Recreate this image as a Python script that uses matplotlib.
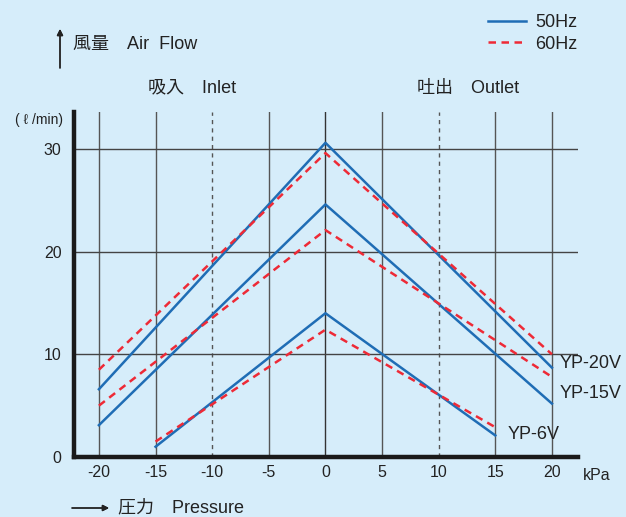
import matplotlib.pyplot as plt

plt.rcParams['font.family'] = ['Liberation Sans', 'Noto Sans CJK JP']

# pressure points (kPa) and air flow (l/min)
x_20v = [-20, 0, 20]
yp20v_50 = [6.6, 30.6, 8.7]
yp20v_60 = [8.5, 29.6, 10.0]

x_15v = [-20, 0, 20]
yp15v_50 = [3.1, 24.6, 5.2]
yp15v_60 = [5.0, 22.1, 7.8]

x_6v = [-15, 0, 15]
yp6v_50 = [1.0, 14.0, 2.1]
yp6v_60 = [1.5, 12.4, 2.9]

xticks = [-20, -15, -10, -5, 0, 5, 10, 15, 20]
yticks = [0, 10, 20, 30]

bg = '#d6edfa'
blue = '#1f6db5'
red = '#ee2a36'
W, H = 626, 517

fig = plt.figure(figsize=(W / 100, H / 100), dpi=100, facecolor=bg)
ax = fig.add_axes([74 / W, 1 - 457 / H, (578 - 74) / W, (457 - 112) / H])
ax.set_facecolor(bg)

# grid
for xv in xticks:
    if xv in (-10, 10):
        ax.axvline(xv, color='#555555', lw=1.0, ls=(0, (3, 3)), zorder=1)
    elif xv != 0:
        ax.axvline(xv, color='#555555', lw=1.0, zorder=1)
    else:
        ax.axvline(xv, color='#333333', lw=1.0, zorder=1)
for yv in yticks[1:]:
    ax.axhline(yv, color='#444444', lw=1.0, zorder=1)

l50, = ax.plot(x_20v, yp20v_50, color=blue, lw=1.8, zorder=3)
l60, = ax.plot(x_20v, yp20v_60, color=red, lw=1.8, ls=(0, (3, 2.2)), zorder=3)
ax.plot(x_15v, yp15v_50, color=blue, lw=1.8, zorder=3)
ax.plot(x_15v, yp15v_60, color=red, lw=1.8, ls=(0, (3, 2.2)), zorder=3)
ax.plot(x_6v, yp6v_50, color=blue, lw=1.8, zorder=3)
ax.plot(x_6v, yp6v_60, color=red, lw=1.8, ls=(0, (3, 2.2)), zorder=3)

ax.set_xlim(-22.2, 22.3)
ax.set_ylim(0, 33.6)
ax.set_xticks(xticks)
ax.set_xticklabels([str(v) for v in xticks])
ax.set_yticks(yticks)
ax.tick_params(length=0, labelsize=11.5, colors='#222222', pad=6)
ax.tick_params(axis='y', pad=9)
for s in ('top', 'right'):
    ax.spines[s].set_visible(False)
for s in ('left', 'bottom'):
    ax.spines[s].set_linewidth(3.2)
    ax.spines[s].set_color('#1a1a1a')

# curve labels
ax.text(20.7, 9.1, 'YP-20V', fontsize=13, va='center', ha='left', color='#222222', clip_on=False)
ax.text(20.7, 6.2, 'YP-15V', fontsize=13, va='center', ha='left', color='#222222', clip_on=False)
ax.text(16.1, 2.2, 'YP-6V', fontsize=13, va='center', ha='left', color='#222222', clip_on=False)


def fx(px):
    return px / W


def fy(py):
    return 1 - py / H


tc = '#222222'
fig.text(fx(583), fy(475), 'kPa', fontsize=11.5, va='center', ha='left', color=tc)
fig.text(fx(63), fy(120), '( ℓ /min)', fontsize=10, va='center', ha='right', color=tc)
fig.text(fx(73), fy(44), '風量　Air  Flow', fontsize=13, va='center', ha='left', color=tc)
fig.text(fx(148), fy(88), '吸入　Inlet', fontsize=13, va='center', ha='left', color=tc)
fig.text(fx(417), fy(88), '吐出　Outlet', fontsize=13, va='center', ha='left', color=tc)
fig.text(fx(118), fy(508), '圧力　Pressure', fontsize=13, va='center', ha='left', color=tc)

# axis arrows
fig.add_artist(plt.annotate('', xy=(fx(60), fy(29)), xytext=(fx(60), fy(68)),
                            xycoords='figure fraction',
                            arrowprops=dict(arrowstyle='-|>', color='#222222', lw=1.0,
                                            mutation_scale=9, shrinkA=0, shrinkB=0)))
fig.add_artist(plt.annotate('', xy=(fx(109), fy(508)), xytext=(fx(72), fy(508)),
                            xycoords='figure fraction',
                            arrowprops=dict(arrowstyle='-|>', color='#222222', lw=1.0,
                                            mutation_scale=9, shrinkA=0, shrinkB=0)))

fig.legend([l50, l60], ['50Hz', '60Hz'], loc='upper left',
           bbox_to_anchor=(fx(472), fy(-2)), frameon=False, fontsize=13,
           handlelength=2.1, handletextpad=0.5, labelspacing=0.25, labelcolor=tc)

fig.savefig('out.png', dpi=100, facecolor=bg)
